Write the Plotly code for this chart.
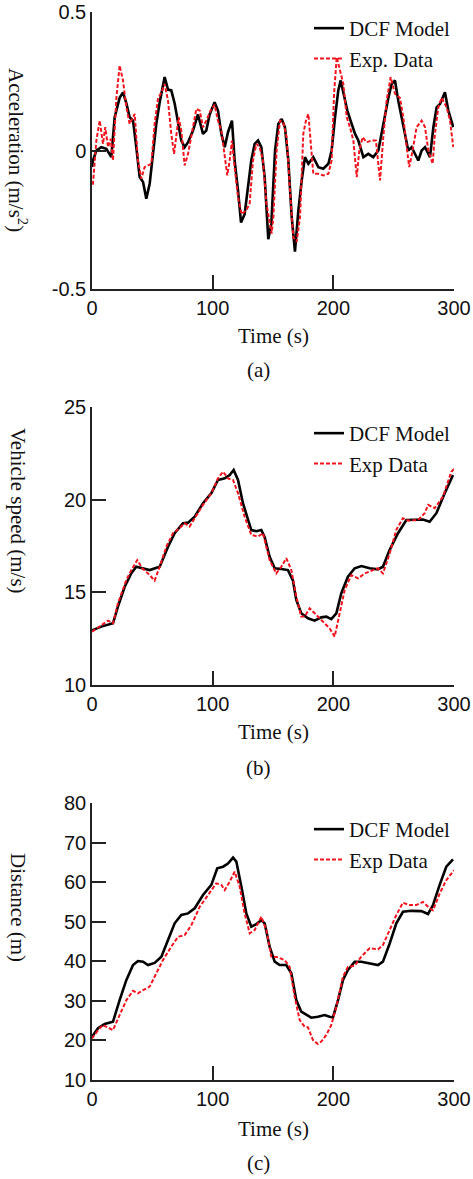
import plotly.graph_objects as go

# ---------------- data ----------------
time_ticks = [0, 100, 200, 300]
time_tick_labels = ["0", "100", "200", "300"]

acc_ticks = [-0.5, 0, 0.5]
acc_tick_labels = ["-0.5", "0", "0.5"]
speed_ticks = [10, 15, 20, 25]
speed_tick_labels = ["10", "15", "20", "25"]
dist_ticks = [10, 20, 30, 40, 50, 60, 70, 80]
dist_tick_labels = ["10", "20", "30", "40", "50", "60", "70", "80"]

# (a) acceleration, DCF model
t_acc_dcf = [0, 0.8, 3.6, 7.7, 11.9, 16, 18.8, 22.9, 25.7, 28.5, 31.2, 34, 36.7, 39.5, 42.3, 45, 47.8,
             50.6, 53.3, 56.1, 58.8, 60.2, 63, 65.7, 68.5, 71.3, 74, 76.8, 79.6, 83.7, 87.8, 92, 94.7,
             97.5, 101.6, 104.4, 107.2, 110, 112.7, 116, 118.2, 121, 123.5, 126.5, 129.3, 132, 134.8,
             137.6, 140.3, 143.1, 146.1, 148.6, 151.7, 154.4, 157.2, 159.9, 162.7, 165.5, 168.2, 171,
             173.8, 176.5, 179.3, 183.4, 187.6, 191.7, 195.9, 198.6, 201.4, 204.1, 206.1, 208.3, 211.6,
             215.2, 218, 220.7, 224.9, 229, 233.1, 237.3, 241.4, 245.6, 248.3, 251.1, 253.8, 256.6,
             259.4, 262.1, 264.9, 267.7, 270.4, 273.2, 276, 280.1, 282.9, 285.6, 288.4, 292.5, 295.3,
             299.4]
acc_dcf = [-0.06, -0.036, 0, 0.012, 0.006, -0.024, 0.12, 0.19, 0.21, 0.17, 0.12, 0.108, 0.012, -0.096,
           -0.114, -0.174, -0.12, 0, 0.096, 0.174, 0.24, 0.265, 0.22, 0.217, 0.17, 0.096, 0.036, 0.012,
           0.03, 0.072, 0.13, 0.06, 0.072, 0.13, 0.174, 0.144, 0.06, 0.012, 0.066, 0.108, -0.036, -0.144,
           -0.26, -0.23, -0.132, -0.036, 0.024, 0.036, 0.012, -0.096, -0.32, -0.265, 0, 0.096, 0.114,
           0.084, -0.036, -0.24, -0.365, -0.217, -0.108, -0.024, -0.048, -0.024, -0.06, -0.066, -0.048,
           0, 0.12, 0.217, 0.253, 0.205, 0.144, 0.096, 0.06, 0.036, -0.024, -0.012, -0.024, 0, 0.096,
           0.19, 0.24, 0.253, 0.18, 0.12, 0.048, 0, 0.012, -0.012, -0.036, 0, 0.012, -0.024, 0.084,
           0.156, 0.168, 0.21, 0.144, 0.084]

# (a) acceleration, experimental data
t_acc_exp = [0, 0.8, 3.6, 6.4, 9.1, 11, 13.3, 15.5, 17.4, 20.2, 22.9, 25.7, 28.5, 31.2, 35.4, 38.1, 40.9,
             43.6, 46.4, 49.2, 51.9, 54.7, 57.5, 60.2, 63, 65.7, 68, 69.9, 71.8, 74, 76.8, 79.6, 82.9,
             86.5, 89.3, 92, 94.7, 98.9, 101.6, 104.4, 107.2, 110, 112.1, 114.1, 116, 118.2, 121, 124,
             127.9, 130.7, 133.4, 136.2, 138.9, 141.7, 144.5, 148.9, 150.3, 153, 155.8, 158.5, 161.3,
             164.1, 166.8, 169.6, 172.4, 175.1, 177.3, 179.3, 181.2, 183.4, 187.6, 191.7, 195.9, 198.6,
             200.6, 202.8, 205.5, 208.3, 211.1, 213.8, 216.6, 219.4, 221.5, 224.3, 227.6, 231.7, 235.3,
             238.7, 241.4, 244.2, 247.5, 251.1, 255.2, 258, 260.8, 262.9, 265.7, 269, 273.2, 276, 278.7,
             282.3, 284.2, 287, 289.8, 293.9, 296.7, 299.4]
acc_exp = [-0.12, -0.12, 0.036, 0.108, 0.024, 0.084, 0.012, 0.042, -0.036, 0.19, 0.307, 0.253, 0.156,
           0.096, 0.132, -0.036, -0.102, -0.06, -0.054, -0.048, 0.096, 0.187, 0.21, 0.24, 0.18, 0.06,
           -0.012, 0.06, 0.12, 0.072, -0.054, -0.012, 0.072, 0.15, 0.144, 0.084, 0.108, 0.15, 0.165,
           0.108, 0.072, -0.024, -0.09, -0.036, 0.036, -0.06, -0.168, -0.23, -0.216, -0.19, -0.036,
           0.024, 0.012, -0.036, -0.19, -0.3, -0.24, 0, 0.108, 0.102, 0.048, -0.144, -0.313, -0.33,
           -0.24, 0.06, 0.108, 0.132, 0.024, -0.084, -0.084, -0.09, -0.084, -0.036, 0.205, 0.337,
           0.29, 0.24, 0.12, 0.084, 0.036, -0.096, 0, 0.048, 0.03, 0.036, 0.036, -0.108, 0.048, 0.18,
           0.265, 0.205, 0.19, 0.12, 0.012, -0.06, 0, 0.084, 0.108, 0.084, 0, -0.048, 0.06, 0.156,
           0.19, 0.156, 0.108, 0.012]

# (b) vehicle speed, DCF model
t_spd_dcf = [0, 7.7, 17.4, 21.5, 27.1, 32.6, 36.7, 41.6, 47.8, 56.1, 63, 68.5, 75.4, 79.6, 85.1, 92,
             98.9, 104.4, 110, 114.1, 117.4, 121, 125.1, 132, 136.2, 140.3, 143.1, 147.2, 151.4, 156.9,
             162.4, 166.5, 169.3, 173.4, 179, 184.5, 190, 194.2, 198.3, 202.5, 206.6, 212.1, 217.7,
             223.2, 230.1, 237, 241.1, 246.7, 253.6, 260.5, 267.4, 274.3, 279.8, 285.4, 292.3, 299.2]
spd_dcf = [12.95, 13.15, 13.33, 14.23, 15.3, 16.03, 16.38, 16.3, 16.2, 16.38, 17.46, 18.19, 18.73,
           18.76, 19.08, 19.81, 20.35, 21.06, 21.15, 21.33, 21.6, 21.06, 19.81, 18.36, 18.3, 18.36,
           17.98, 16.92, 16.3, 16.26, 16.2, 15.64, 14.59, 13.87, 13.6, 13.47, 13.65, 13.69, 13.55,
           13.87, 14.95, 15.84, 16.3, 16.42, 16.3, 16.24, 16.38, 17.29, 18.19, 18.9, 18.93, 18.93,
           18.81, 19.27, 20.35, 21.33]

# (b) vehicle speed, experimental data
t_spd_exp = [0, 7.7, 13.3, 17.4, 21.5, 28.5, 32.6, 37.5, 41.6, 47.8, 51.9, 56.1, 61.6, 67.1, 72.6, 76.8,
             80.9, 85.1, 92, 98.9, 104.4, 108.6, 112.7, 116.9, 121, 126.5, 132, 137.6, 141.7, 147.2,
             152.7, 156.9, 161, 165.2, 169.3, 173.4, 176.2, 180.4, 185.8, 191.4, 196.9, 201.1, 205.3,
             209.4, 214.9, 220.5, 226, 232.9, 237, 241.1, 246.7, 252.2, 257.7, 261.9, 270.2, 275.7,
             278.5, 284, 290.9, 297.8, 300]
spd_exp = [12.88, 13.24, 13.47, 13.33, 14.41, 15.67, 16.2, 16.74, 16.3, 15.93, 15.63, 16.38, 17.46,
           18.19, 18.46, 18.73, 18.55, 19.0, 19.72, 20.35, 21.15, 21.51, 21.15, 21.06, 20.35, 19.08,
           18.1, 18.01, 18.19, 16.74, 16.02, 16.38, 16.84, 16.2, 14.77, 13.69, 13.69, 14.14, 13.78,
           13.42, 13.06, 12.61, 13.87, 15.13, 15.93, 15.75, 16.02, 16.2, 16.3, 16.02, 17.1, 18.37,
           19.0, 18.87, 18.9, 19.27, 19.72, 19.54, 20.17, 21.51, 21.65]

# (c) distance, DCF model
t_dst_dcf = [0, 5, 10.5, 17.4, 22.9, 28.5, 34, 38.1, 42.3, 46.4, 51.9, 57.5, 63, 68.5, 74, 79.6, 85.1,
             92, 98.9, 103.8, 108.6, 112.7, 116.9, 119.6, 123.8, 127.9, 132, 136.2, 140.3, 143.1, 147.2,
             151.4, 155.5, 161, 165.2, 169.3, 173.4, 177.6, 181.7, 187.2, 192.8, 196.9, 199.7, 203.9,
             208, 212.1, 217.7, 223.2, 230.1, 237, 241.1, 246.7, 252.2, 257.7, 264.6, 272.9, 278.5,
             282.6, 288.1, 293.6, 299.2]
dst_dcf = [20.95, 23.07, 24.17, 24.74, 30.2, 35.3, 39.06, 40.07, 39.9, 39.06, 39.6, 41.16, 45.4, 49.6,
           51.7, 52.1, 53.4, 56.75, 59.3, 63.5, 63.9, 64.7, 66.2, 65.2, 58.85, 52.1, 48.75, 49.4, 50.4,
           49.6, 43.7, 39.9, 39.06, 39.06, 36.97, 30.2, 27.27, 26.4, 25.75, 26.0, 26.4, 26.0, 25.8,
           30.2, 35.27, 37.8, 39.9, 39.9, 39.5, 39.06, 39.9, 44.5, 49.6, 52.5, 52.75, 52.67, 51.95,
           54.2, 59.3, 63.9, 65.77]

# (c) distance, experimental data
t_dst_exp = [0, 5, 9.1, 13.3, 17.4, 22.9, 28.5, 34, 38.1, 42.3, 47.8, 53.3, 58.8, 65.7, 71.3, 76.8,
             82.3, 89.3, 96.2, 103, 107.2, 110, 114.1, 118.2, 122.4, 126.5, 130.7, 134.8, 140.3, 144.5,
             148.6, 154.2, 159.7, 163.8, 168, 172.1, 176.2, 179, 183.1, 187.2, 190, 194.2, 198.3, 202.5,
             208, 212.1, 217.7, 223.2, 230.1, 237, 241.1, 246.7, 252.2, 257.7, 263.2, 268.7, 274.3,
             279.8, 282.6, 288.1, 293.6, 300]
dst_exp = [20.5, 22.6, 23.9, 23.3, 22.6, 26.4, 30.2, 32.55, 31.9, 32.7, 33.6, 36.97, 40.3, 43.7, 46.2,
           46.6, 49.1, 53.8, 56.75, 59.7, 59.3, 58.0, 60.1, 62.65, 58.85, 52.1, 47.07, 47.9, 51.27, 47.9,
           41.2, 41.0, 40.3, 38.6, 31.0, 25.16, 23.5, 23.3, 20.1, 19.1, 19.7, 21.4, 23.9, 28.5, 36.1,
           38.6, 38.9, 41.2, 43.3, 43.0, 44.1, 47.9, 51.7, 54.8, 54.2, 54.2, 55.0, 53.4, 52.9, 57.1,
           60.5, 63.0]

# ---------------- layout helpers ----------------
W, H = 473, 1179


def px_x(p):
    return p / W


def px_y(p):
    return 1 - p / H


SERIF = "Times New Roman, Liberation Serif, serif"
SANS = "Arial, Liberation Sans, sans-serif"
BLACK = "#000000"
RED = "#f0141e"
AXC = "#222222"

fig = go.Figure()

panels = [
    ("x", "y", "legend", t_acc_dcf, acc_dcf, t_acc_exp, acc_exp, "Exp. Data"),
    ("x2", "y2", "legend2", t_spd_dcf, spd_dcf, t_spd_exp, spd_exp, "Exp Data"),
    ("x3", "y3", "legend3", t_dst_dcf, dst_dcf, t_dst_exp, dst_exp, "Exp Data"),
]
for xa, ya, lg, tx1, y1, tx2, y2, lab in panels:
    fig.add_trace(go.Scatter(x=tx1, y=y1, mode="lines", name="DCF Model", xaxis=xa, yaxis=ya,
                             legend=lg, line=dict(color=BLACK, width=2.6)))
    fig.add_trace(go.Scatter(x=tx2, y=y2, mode="lines", name=lab, xaxis=xa, yaxis=ya,
                             legend=lg, line=dict(color=RED, width=2, dash="4px,2px")))

x_dom = [px_x(92), px_x(454)]
y_doms = [(12, 289), (407, 685), (803, 1080)]
y_ranges = [[-0.5, 0.5], [10, 25], [10, 80]]
y_tv = [acc_ticks, speed_ticks, dist_ticks]
y_tt = [acc_tick_labels, speed_tick_labels, dist_tick_labels]

axis_common = dict(showline=True, linecolor=AXC, linewidth=1.5, ticks="inside", ticklen=14,
                   tickwidth=1.5, tickcolor=AXC, showgrid=False, zeroline=False, automargin=False,
                   tickfont=dict(family=SANS, size=20, color="#111111"))

layout = dict(width=W, height=H, margin=dict(l=0, r=0, t=0, b=0, autoexpand=False),
              paper_bgcolor="white", plot_bgcolor="white", showlegend=True)

for i in range(3):
    s = "" if i == 0 else str(i + 1)
    top, bot = y_doms[i]
    layout["xaxis" + s] = dict(domain=x_dom, range=[0, 300], anchor="y" + s,
                               tickvals=time_ticks, ticktext=time_tick_labels, **axis_common)
    layout["yaxis" + s] = dict(domain=[px_y(bot), px_y(top)], range=y_ranges[i], anchor="x" + s,
                               tickvals=y_tv[i], ticktext=y_tt[i], **axis_common)

legend_tops = [8, 413, 809]
for i, top in enumerate(legend_tops):
    key = "legend" if i == 0 else "legend" + str(i + 1)
    layout[key] = dict(x=px_x(309), y=px_y(top), xanchor="left", yanchor="top",
                       bgcolor="rgba(0,0,0,0)", borderwidth=0, tracegroupgap=0,
                       font=dict(family=SERIF, size=21, color="#111111"))

fig.update_layout(**layout)

annotations = []
y_titles = [("Acceleration (m/s<sup>2</sup>)", 150), ("Vehicle speed (m/s)", 511), ("Distance (m)", 907)]
for text, yc in y_titles:
    annotations.append(dict(text=text, x=px_x(18), y=px_y(yc), xref="paper", yref="paper",
                            textangle=90, showarrow=False, xanchor="center", yanchor="middle",
                            font=dict(family=SERIF, size=21, color="#111111")))
x_title_y = [336, 732, 1129]
panel_lab_y = [370, 768, 1163]
for i in range(3):
    annotations.append(dict(text="Time (s)", x=px_x(273), y=px_y(x_title_y[i]), xref="paper",
                            yref="paper", showarrow=False, xanchor="center", yanchor="middle",
                            font=dict(family=SERIF, size=21, color="#111111")))
    annotations.append(dict(text="(" + "abc"[i] + ")", x=px_x(258), y=px_y(panel_lab_y[i]),
                            xref="paper", yref="paper", showarrow=False, xanchor="center",
                            yanchor="middle", font=dict(family=SERIF, size=21, color="#111111")))
fig.update_layout(annotations=annotations)

fig.write_html("out.html")
